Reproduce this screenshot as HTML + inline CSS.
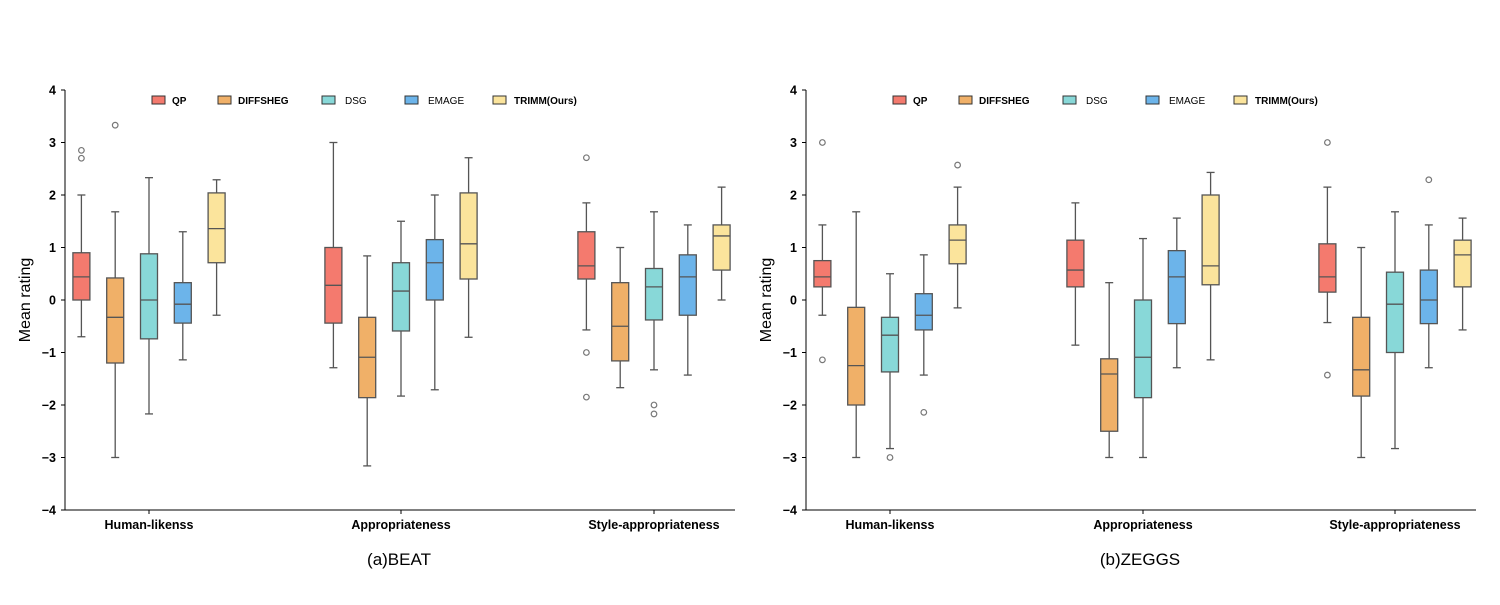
<!DOCTYPE html>
<html><head><meta charset="utf-8"><style>
body{margin:0;background:#fff;}
svg text{font-family:"Liberation Sans",Arial,sans-serif;}
</style></head><body>
<svg id="chart" width="1500" height="600" xmlns="http://www.w3.org/2000/svg"></svg>
<script>
const categories=["Human-likenss","Appropriateness","Style-appropriateness"];
const methods=["QP","DIFFSHEG","DSG","EMAGE","TRIMM(Ours)"];
const colors=["#f47a6e","#f0b068","#88d8d8","#6cb4ea","#fbe49c"];
const yTicks=[4,3,2,1,0,-1,-2,-3,-4];
// [whisker low, q1, median, q3, whisker high]
const beatStats=[
 [[-0.7,0,0.44,0.9,2],[-3,-1.2,-0.33,0.42,1.68],[-2.17,-0.74,0,0.88,2.33],[-1.14,-0.44,-0.08,0.33,1.3],[-0.29,0.71,1.36,2.04,2.29]],
 [[-1.29,-0.44,0.28,1,3],[-3.16,-1.86,-1.09,-0.33,0.84],[-1.83,-0.59,0.17,0.71,1.5],[-1.71,0,0.71,1.15,2],[-0.71,0.4,1.07,2.04,2.71]],
 [[-0.57,0.4,0.65,1.3,1.85],[-1.67,-1.16,-0.5,0.33,1],[-1.33,-0.38,0.25,0.6,1.68],[-1.43,-0.29,0.44,0.86,1.43],[0,0.57,1.22,1.43,2.15]]
];
const beatOutliers=[
 [[2.7,2.85],[3.33],[],[],[]],
 [[],[],[],[],[]],
 [[2.71,-1,-1.85],[],[-2,-2.17],[],[]]
];
const zeggsStats=[
 [[-0.29,0.25,0.44,0.75,1.43],[-3,-2,-1.25,-0.14,1.68],[-2.83,-1.37,-0.67,-0.33,0.5],[-1.43,-0.57,-0.29,0.12,0.86],[-0.15,0.69,1.14,1.43,2.15]],
 [[-0.86,0.25,0.57,1.14,1.85],[-3,-2.5,-1.41,-1.12,0.33],[-3,-1.86,-1.09,0,1.17],[-1.29,-0.45,0.44,0.94,1.56],[-1.14,0.29,0.65,2,2.43]],
 [[-0.43,0.15,0.44,1.07,2.15],[-3,-1.83,-1.33,-0.33,1],[-2.83,-1,-0.08,0.53,1.68],[-1.29,-0.45,0,0.57,1.43],[-0.57,0.25,0.86,1.14,1.56]]
];
const zeggsOutliers=[
 [[3,-1.14],[],[-3],[-2.14],[2.57]],
 [[],[],[],[],[]],
 [[3,-1.43],[],[],[2.29],[]]
];
const NS="http://www.w3.org/2000/svg";
const svg=document.getElementById('chart');
function mk(tag,attrs,parent,text){const e=document.createElementNS(NS,tag);for(const k in attrs)e.setAttribute(k,attrs[k]);if(text!==undefined)e.textContent=text;(parent||svg).appendChild(e);return e;}
function drawPanel(x0,x1,groupX,stats,outl,title,titleX,pname){
  const g=mk('g',{});
  
  
  const y=v=>300-v*52.5;
  mk('line',{x1:x0,y1:90,x2:x0,y2:510,stroke:'#000','stroke-width':1},g);
  mk('line',{x1:x0,y1:510,x2:x1,y2:510,stroke:'#000','stroke-width':1},g);
  yTicks.forEach(t=>{
    mk('line',{x1:x0-4,y1:y(t),x2:x0,y2:y(t),stroke:'#000'},g);
    const tx=mk('text',{x:x0-9,y:y(t)+4.5,'text-anchor':'end','font-size':12.5,'font-weight':'bold'},g,(t<0?'\u2212':'')+Math.abs(t));
    
    
  });
  const yl=mk('text',{x:0,y:0,transform:`translate(${x0-35},300) rotate(-90)`,'text-anchor':'middle','font-size':16},g,'Mean rating');
  
  
  categories.forEach((c,ci)=>{
    const cx=groupX[ci];
    mk('line',{x1:cx,y1:510,x2:cx,y2:514,stroke:'#000'},g);
    const xl=mk('text',{x:cx,y:529,'text-anchor':'middle','font-size':12.5,'font-weight':'bold'},g,c);
    
    
    stats[ci].forEach((s,mi)=>{
      const bx=cx+(mi-2)*33.8;
      const bg=mk('g',{},g);
      
      
      const st={stroke:'#555','stroke-width':1.3};
      mk('line',Object.assign({x1:bx,y1:y(s[0]),x2:bx,y2:y(s[1])},st),bg);
      mk('line',Object.assign({x1:bx,y1:y(s[3]),x2:bx,y2:y(s[4])},st),bg);
      mk('line',Object.assign({x1:bx-4,y1:y(s[0]),x2:bx+4,y2:y(s[0])},st),bg);
      mk('line',Object.assign({x1:bx-4,y1:y(s[4]),x2:bx+4,y2:y(s[4])},st),bg);
      mk('rect',Object.assign({x:bx-8.5,y:y(s[3]),width:17,height:y(s[1])-y(s[3]),fill:colors[mi]},st),bg);
      mk('line',Object.assign({x1:bx-8.5,y1:y(s[2]),x2:bx+8.5,y2:y(s[2])},st),bg);
      outl[ci][mi].forEach(o=>{
        const c=mk('circle',{cx:bx,cy:y(o),r:2.8,fill:'none',stroke:'#777','stroke-width':1.2},bg);
        
        
      });
    });
  });
  const sw=[152,218,322,405,493], lx=[172,238,345,428,514];
  methods.forEach((m,i)=>{
    const lg=mk('g',{},g);
    
    
    const off=x0-65;
    mk('rect',{x:sw[i]+off,y:96,width:13,height:8,fill:colors[i],stroke:'#333','stroke-width':1},lg);
    mk('text',{x:lx[i]+off,y:104,'font-size':10,'font-weight':(i==2||i==3)?'normal':'bold'},lg,m);
  });
  const tt=mk('text',{x:titleX,y:565,'text-anchor':'middle','font-size':17},g,title);
  
  
}
drawPanel(65,735,[149,401,654],beatStats,beatOutliers,'(a)BEAT',399,'beat-panel');
drawPanel(806,1476,[890,1143,1395],zeggsStats,zeggsOutliers,'(b)ZEGGS',1140,'zeggs-panel');
</script>
</body></html>
